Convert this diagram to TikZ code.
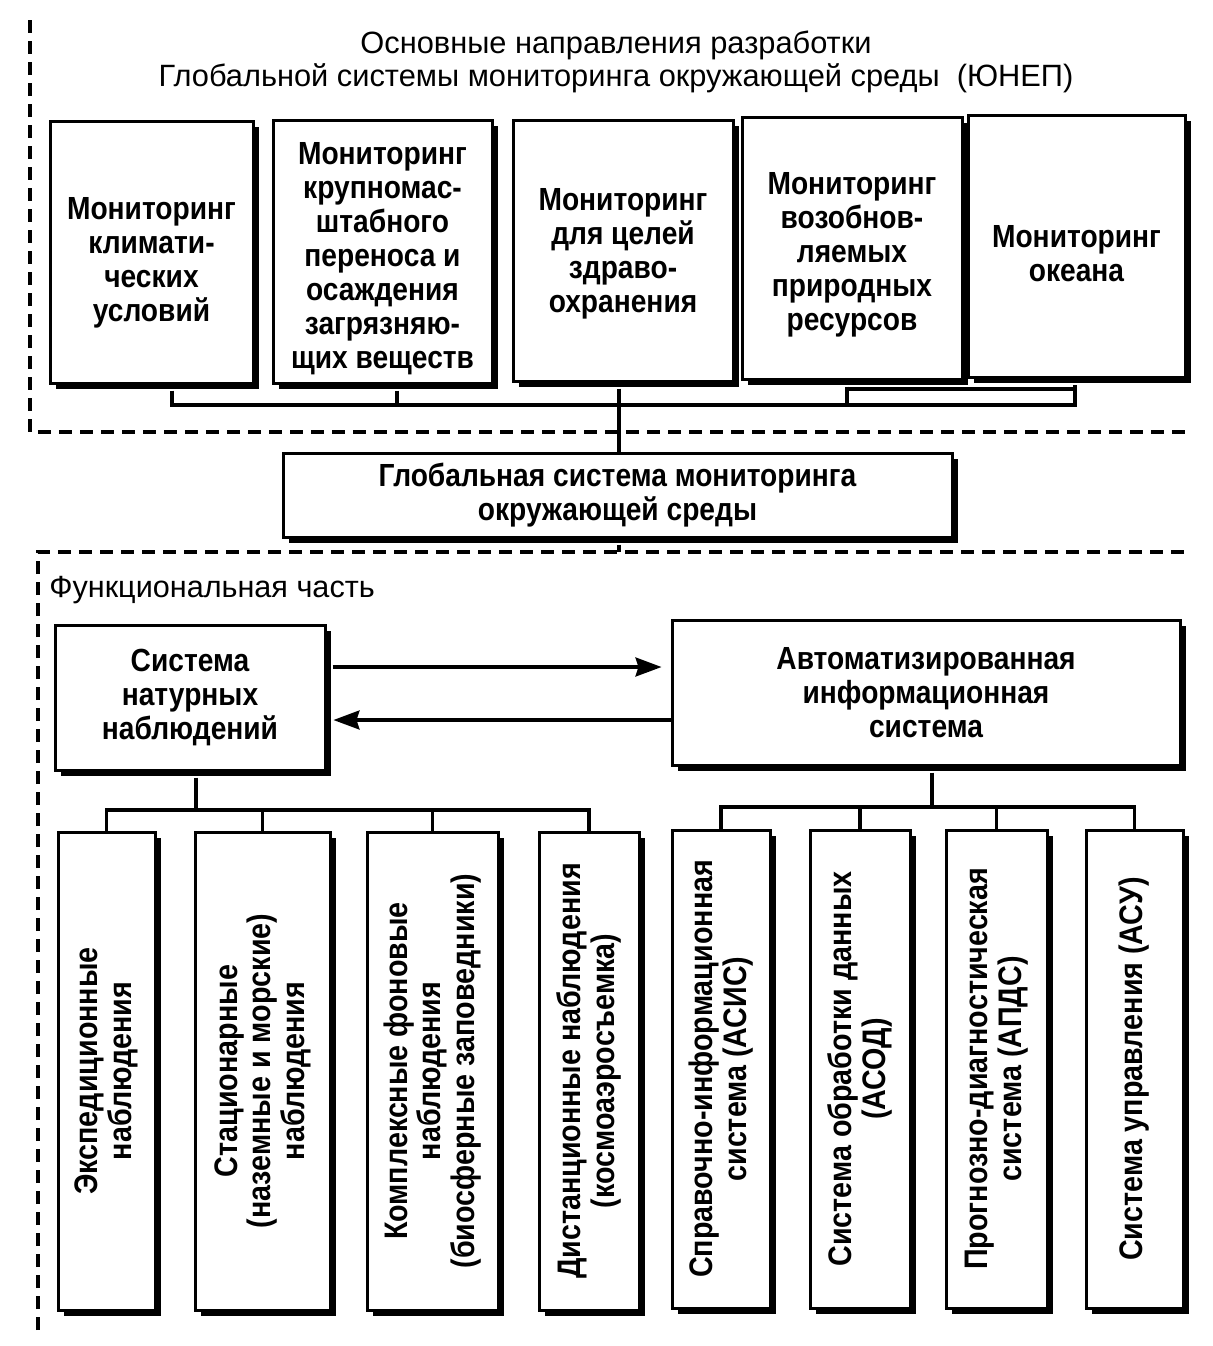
\documentclass[tikz,border=0pt]{standalone}
\usepackage{fontspec}
\setmainfont{Liberation Sans}
\newfontfamily\bfn[FakeStretch=0.88]{Liberation Sans}
\usetikzlibrary{arrows.meta,shadows}
\begin{document}
\begin{tikzpicture}[x=0.5pt,y=-0.5pt,
  box/.style={draw, line width=1.5pt, fill=white, inner sep=0pt, align=center,
    drop shadow={shadow xshift=3pt, shadow yshift=-3pt, opacity=1, fill=black}},
  btext/.style={align=center, inner sep=0pt, font=\bfn\bfseries\fontsize{16}{17}\selectfont},
  vtext/.style={align=center, rotate=90, inner sep=0pt, font=\bfn\bfseries\fontsize{16.3}{16.7}\selectfont},
  conn/.style={line width=1.6pt},
  bordline/.style={line width=2pt, dash pattern=on 6.5pt off 4pt},
  arr/.style={conn, -{Stealth[length=13pt,width=9.5pt,inset=1.5pt]}}
]
\useasboundingbox (0,0) rectangle (1213,1346);

% section borders
\draw[bordline] (30,20) -- (30,432) -- (1185,432);
\draw[bordline] (38,1330) -- (38,552) -- (1185,552);

% title
\node[align=center, font=\fontsize{15.4}{16.5}\selectfont] (title) at (616,62)
  {Основные направления разработки\\Глобальной системы мониторинга окружающей среды~~(ЮНЕП)};

% top boxes
\node[box, minimum width=101.5pt, minimum height=131pt] (T1) at (151.5,252) {};
\node[box, minimum width=109.5pt, minimum height=131.5pt] (T2) at (382.5,251.5) {};
\node[box, minimum width=110pt, minimum height=130.5pt] (T3) at (623,250.5) {};
\node[box, minimum width=110pt, minimum height=131pt] (T4) at (852,248) {};
\node[box, minimum width=108.5pt, minimum height=131pt] (T5) at (1076.5,246) {};
\node[btext] (T1t) at ([yshift=-5.5pt]T1.center) {Мониторинг\\климати-\\ческих\\условий};
\node[btext] (T2t) at ([yshift=-3.5pt]T2.center) {Мониторинг\\крупномас-\\штабного\\переноса и\\осаждения\\загрязняю-\\щих веществ};
\node[btext] (T3t) at ([yshift=-1.5pt]T3.center) {Мониторинг\\для целей\\здраво-\\охранения};
\node[btext] (T4t) at ([yshift=-3.5pt]T4.center) {Мониторинг\\возобнов-\\ляемых\\природных\\ресурсов};
\node[btext] (T5t) at ([yshift=-4pt]T5.center) {Мониторинг\\океана};

% bracket under top boxes
\coordinate (j1) at (172,405);
\coordinate (j2) at (397,405);
\coordinate (j3) at (619,405);
\coordinate (j4) at (847,405);
\coordinate (j5) at (1075,405);
\coordinate (k4) at (847,389);
\draw[conn] ([yshift=-3pt]T1.south -| j1) -- (j1) -- (j5) -- ([yshift=-3pt]T5.south -| j5);
\draw[conn] ([yshift=-3pt]T2.south -| j2) -- (j2);
\draw[conn] ([yshift=-3pt]T3.south -| j3) -- (j3);
\draw[conn] ([yshift=-3pt]T4.south -| j4) -- (j4);
\draw[conn] (k4) -- (k4 -| j5);

% middle box
\node[box, btext, minimum width=334.5pt, minimum height=42pt] (M) at (617.5,495)
  {Глобальная система мониторинга\\окружающей среды};
\coordinate (d2) at (619,552);
\draw[conn] (j3) -- (M.north -| j3);
\draw[conn] ([yshift=-3pt]M.south -| d2) -- (d2);

% functional part
\node[anchor=west, inner sep=0pt, font=\fontsize{15.3}{16}\selectfont] (func) at (49,590)
  {Функциональная часть};

\node[box, btext, minimum width=135pt, minimum height=72.5pt] (L) at (190,697.5)
  {Система\\натурных\\наблюдений};
\node[box, btext, minimum width=254pt, minimum height=72.5pt] (R) at (926,692.5)
  {Автоматизированная\\информационная\\система};

\coordinate (a1) at (0,667);
\coordinate (a2) at (0,720);
\draw[arr] ([xshift=3pt]L.east |- a1) -- ([xshift=-4.5pt]R.west |- a1);
\draw[arr] (R.west |- a2) -- ([xshift=3.5pt]L.east |- a2);

% bottom boxes
\node[box, minimum width=48.5pt, minimum height=239pt] (B1) at (106.5,1071) {};
\node[box, minimum width=67.5pt, minimum height=239pt] (B2) at (262.5,1071) {};
\node[box, minimum width=65.5pt, minimum height=239pt] (B3) at (432.5,1071) {};
\node[box, minimum width=50pt, minimum height=239pt] (B4) at (589,1071) {};
\node[box, minimum width=49pt, minimum height=239pt] (B5) at (721,1069) {};
\node[box, minimum width=50pt, minimum height=239pt] (B6) at (860,1069) {};
\node[box, minimum width=50.5pt, minimum height=239pt] (B7) at (996.5,1069) {};
\node[box, minimum width=48.5pt, minimum height=239pt] (B8) at (1134.5,1069) {};

\node[vtext] (t1) at (B1.center) {Экспедиционные\\наблюдения};
\node[vtext] (t2) at (B2.center) {Стационарные\\(наземные и морские)\\наблюдения};
\node[vtext] (t3) at (B3.center) {Комплексные фоновые\\наблюдения\\(биосферные заповедники)};
\node[vtext] (t4) at (B4.center) {Дистанционные наблюдения\\(космоаэросъемка)};
\node[vtext] (t5) at (B5.center) {Справочно-информационная\\система (АСИС)};
\node[vtext] (t6) at (B6.center) {Система обработки данных\\(АСОД)};
\node[vtext] (t7) at (B7.center) {Прогнозно-диагностическая\\система (АПДС)};
\node[vtext] (t8) at (B8.center) {Система управления (АСУ)};

% trees
\coordinate (hL) at (196,810);
\coordinate (hR) at (932,807);
\draw[conn] ([yshift=-3pt]L.south -| hL) -- (hL);
\draw[conn] (B1.north) -- (B1.north |- hL) -- (B4.north |- hL) -- (B4.north);
\draw[conn] (B2.north) -- (B2.north |- hL);
\draw[conn] (B3.north) -- (B3.north |- hL);
\draw[conn] ([yshift=-3pt]R.south -| hR) -- (hR);
\draw[conn] (B5.north) -- (B5.north |- hR) -- (B8.north |- hR) -- (B8.north);
\draw[conn] (B6.north) -- (B6.north |- hR);
\draw[conn] (B7.north) -- (B7.north |- hR);
\end{tikzpicture}
\end{document}
